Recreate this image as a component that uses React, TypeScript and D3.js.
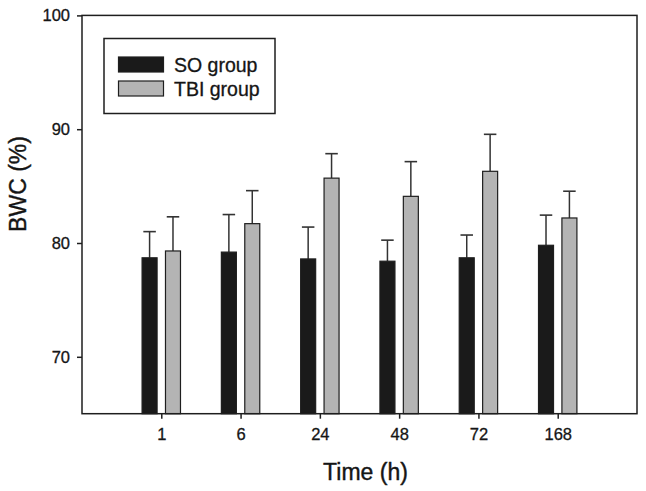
import * as d3 from "d3";
import { useEffect, useRef } from "react";

const times = ["1", "6", "24", "48", "72", "168"];
const soMean = [78.7, 79.2, 78.6, 78.4, 78.7, 79.8];
const soErr = [2.3, 3.3, 2.8, 1.85, 2.0, 2.65];
const tbiMean = [79.3, 81.7, 85.7, 84.1, 86.3, 82.2];
const tbiErr = [3.0, 2.9, 2.15, 3.05, 3.25, 2.35];
const yTicks = [70, 80, 90, 100];
const groups = ["SO group", "TBI group"];

const W = 646;
const H = 491;
const FONT = "'Liberation Sans', Arial, sans-serif";

export default function App() {
  const svgRef = useRef<SVGSVGElement>(null);

  useEffect(() => {
    if (!svgRef.current) return;
    const svg = d3.select(svgRef.current);
    svg.selectAll("*").remove();

    const left = 82, right = 637, top = 15.4, bottom = 413.7;

    const y = d3.scaleLinear().domain([65, 100]).range([bottom, top]);
    const x = d3.scalePoint<string>().domain(times).range([left, right]).padding(1);

    const barW = 15;
    const off = 11.7;
    const capW = 12.5;
    const ink = "#1e1e1e";
    const txt = "#151515";

    const series = [
      { mean: soMean, err: soErr, fill: "#1a1a1a", dx: -off },
      { mean: tbiMean, err: tbiErr, fill: "#b4b4b4", dx: off },
    ];

    const bars = svg.append("g");
    series.forEach((s) => {
      times.forEach((t, i) => {
        const cx = x(t)! + s.dx;
        const yTop = y(s.mean[i]);
        const yCap = y(s.mean[i] + s.err[i]);
        bars.append("line")
          .attr("x1", cx).attr("x2", cx)
          .attr("y1", yTop).attr("y2", yCap)
          .attr("stroke", "#333").attr("stroke-width", 1.5);
        bars.append("line")
          .attr("x1", cx - capW / 2).attr("x2", cx + capW / 2)
          .attr("y1", yCap).attr("y2", yCap)
          .attr("stroke", "#333").attr("stroke-width", 1.6);
        bars.append("rect")
          .attr("x", cx - barW / 2)
          .attr("y", yTop)
          .attr("width", barW)
          .attr("height", bottom - yTop)
          .attr("fill", s.fill)
          .attr("stroke", ink)
          .attr("stroke-width", 1.2);
      });
    });

    // frame
    svg.append("rect")
      .attr("x", left).attr("y", top)
      .attr("width", right - left).attr("height", bottom - top)
      .attr("fill", "none").attr("stroke", ink).attr("stroke-width", 1.5);

    // y axis
    const yAxis = svg.append("g")
      .attr("transform", `translate(${left},0)`)
      .call(d3.axisLeft(y).tickValues(yTicks).tickSize(5).tickPadding(7).tickFormat(d3.format("d")));
    yAxis.select(".domain").remove();
    yAxis.selectAll("line").attr("stroke", ink).attr("stroke-width", 1.5);
    yAxis.selectAll("text")
      .attr("font-family", FONT).attr("font-size", 16.5).attr("fill", txt)
      .attr("stroke", txt).attr("stroke-width", 0.3);

    // x axis
    const xAxis = svg.append("g")
      .attr("transform", `translate(0,${bottom})`)
      .call(d3.axisBottom(x).tickSize(5).tickPadding(10));
    xAxis.select(".domain").remove();
    xAxis.selectAll("line").attr("stroke", ink).attr("stroke-width", 1.5);
    xAxis.selectAll("text")
      .attr("font-family", FONT).attr("font-size", 16.5).attr("fill", txt)
      .attr("stroke", txt).attr("stroke-width", 0.3);

    // axis titles
    svg.append("text")
      .attr("x", (left + right) / 2 + 6).attr("y", 480)
      .attr("text-anchor", "middle")
      .attr("font-family", FONT).attr("font-size", 23).attr("fill", txt)
      .attr("stroke", txt).attr("stroke-width", 0.4)
      .text("Time (h)");
    svg.append("text")
      .attr("transform", `translate(26,184) rotate(-90)`)
      .attr("text-anchor", "middle")
      .attr("font-family", FONT).attr("font-size", 23).attr("fill", txt)
      .attr("stroke", txt).attr("stroke-width", 0.4)
      .text("BWC (%)");

    // legend
    const lg = svg.append("g");
    lg.append("rect")
      .attr("x", 104).attr("y", 38.5).attr("width", 171).attr("height", 75)
      .attr("fill", "#fff").attr("stroke", ink).attr("stroke-width", 1.5);
    groups.forEach((g, i) => {
      const yy = 57 + i * 24;
      lg.append("rect")
        .attr("x", 118.5).attr("y", yy).attr("width", 45).attr("height", 15)
        .attr("fill", series[i].fill).attr("stroke", ink).attr("stroke-width", 1.2);
      lg.append("text")
        .attr("x", 174).attr("y", yy + 15)
        .attr("font-family", FONT).attr("font-size", 19.5).attr("fill", txt)
        .attr("stroke", txt).attr("stroke-width", 0.3)
        .text(g);
    });
  }, []);

  return (
    <svg
      ref={svgRef}
      width={W}
      height={H}
      style={{ position: "absolute", left: 0, top: 0, background: "#fff" }}
    />
  );
}
